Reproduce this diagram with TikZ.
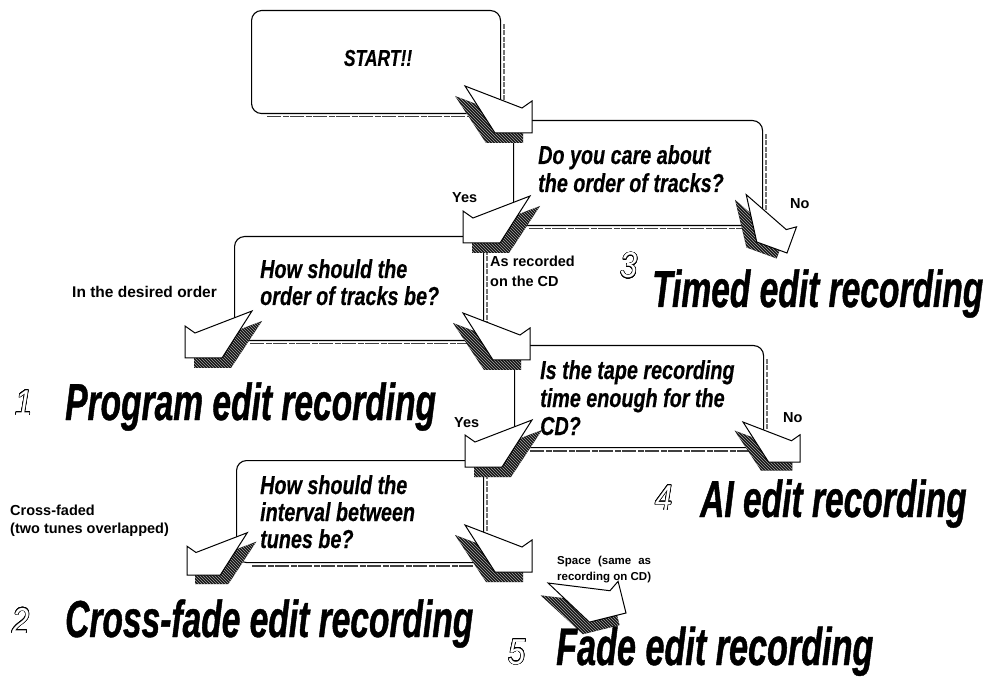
\documentclass[tikz,border=0pt]{standalone}
\usepackage{fontspec}
\setmainfont{Liberation Sans}
\newfontfamily\titlefont[FakeStretch=0.645,FakeBold=0.8]{Liberation Sans}
\newfontfamily\qfont[FakeStretch=0.76,FakeBold=0.4]{Liberation Sans}
\newfontfamily\digitfont[FakeStretch=0.85]{Liberation Sans}
\usepackage[copies]{contour}
\contourlength{0.55pt}
\contournumber{24}
\usetikzlibrary{patterns}
\newlength\spacelen
\newcommand\fatarrow[5]{%
 \coordinate (#1) at (#2);
 \begin{scope}[shift={(#2)}, rotate=#3, scale=#5, xscale=#4]
  \fill[arrshadow] (-77,-37) -- (-19,-15) -- (-9,-22) -- (-9,10) -- (-46,10) -- cycle;
  \fill[arrstripe] (-77,-37) -- (-19,-15) -- (-9,-22) -- (-9,10) -- (-46,10) -- cycle;
  \draw[arrbody] (-67,-47) -- (-10,-25) -- (0,-32) -- (0,0) -- (-37,0) -- cycle;
 \end{scope}}
\newcommand\outdigit[1]{\contour{black}{\textcolor{white}{#1}}}
\begin{document}
\begin{tikzpicture}[x=1pt,y=-1pt,
  box/.style={draw=black, line width=1.1pt, fill=white, rounded corners=10pt, anchor=north west, inner sep=0pt},
  boxshade/.style={draw=black!55, line width=1.6pt, dash pattern=on 5pt off 1.5pt, rounded corners=10pt},
  boxbottom/.style={draw=black!75, line width=1.8pt, dash pattern=on 14pt off 2pt on 6pt off 1pt},
  arrbody/.style={draw=black, line width=1pt, fill=white, line join=miter},
  arrshadow/.style={fill=black!92},
  arrstripe/.style={pattern=north west lines, pattern color=black!35},
  lbl/.style={font=\bfseries\fontsize{14.5}{17}\selectfont, inner sep=0pt, anchor=base west},
  quest/.style={font=\qfont\bfseries\itshape\fontsize{26}{30}\selectfont, inner sep=0pt, anchor=base west},
  ttl/.style={font=\titlefont\bfseries\itshape\fontsize{52}{54}\selectfont, inner sep=0pt, anchor=base west},
  dig/.style={font=\digitfont\itshape\fontsize{36}{38}\selectfont, inner sep=0pt, anchor=base west}
]
\path[use as bounding box] (0,0) rectangle (997,679);

% boxes
\node[box, minimum width=249pt, minimum height=103pt] (b1) at (251,10) {};
\node[box, minimum width=249pt, minimum height=105pt] (b2) at (513,120) {};
\node[box, minimum width=249pt, minimum height=104pt] (b3) at (234,236) {};
\node[box, minimum width=249pt, minimum height=102pt] (b4) at (514,345) {};
\node[box, minimum width=247pt, minimum height=102pt] (b5) at (236,460) {};
\foreach \b in {b1,b2,b3,b4,b5}{
  \draw[boxshade] ([xshift=3pt,yshift=-14pt]\b.north east) -- ([xshift=3pt,yshift=-12pt]\b.south east);
  \draw[boxbottom] ([xshift=16pt,yshift=-2.5pt]\b.south west) -- ([xshift=-10pt,yshift=-2.5pt]\b.south east);
}

% texts in boxes
\node[font=\qfont\bfseries\itshape\fontsize{23}{26}\selectfont, inner sep=0pt] (start) at (378,58) {START!!};
\node[quest] (q2a) at (538,164) {Do you care about};
\node[quest] (q2b) at (538,192) {the order of tracks?};
\node[quest] (q3a) at (260,278) {How should the};
\node[quest] (q3b) at (260,305) {order of tracks be?};
\node[quest] (q4a) at (540,379) {Is the tape recording};
\node[quest] (q4b) at (540,407) {time enough for the};
\node[quest] (q4c) at (540,435) {CD?};
\node[quest] (q5a) at (260,494) {How should the};
\node[quest] (q5b) at (260,521) {interval between};
\node[quest] (q5c) at (260,548) {tunes be?};

% fat arrows
\fatarrow{a1}{532,133}{0}{1}{1}
\fatarrow{a2}{463,243}{0}{-1}{1}
\fatarrow{a3}{787,253}{-20}{1}{0.87}
\fatarrow{a4}{185,358}{0}{-1}{1}
\fatarrow{a5}{530,360}{0}{1}{1}
\fatarrow{a6}{465,467}{0}{-1}{1}
\fatarrow{a7}{800,462}{0}{1}{0.85}
\fatarrow{a8}{187,575}{0}{-1}{0.9}
\fatarrow{a9}{532,572}{0}{1}{1}
\fatarrow{a10}{626,613}{14}{1}{1.02}

% labels
\node[lbl] (yes1) at (452,203) {Yes};
\node[lbl] (no1) at (790,209) {No};
\node[lbl, font=\bfseries\fontsize{15.5}{18}\selectfont] (lorder) at (72,298) {In the desired order};
\node[lbl] (las1) at (490,267) {As recorded};
\node[lbl] (las2) at (490,287) {on the CD};
\node[lbl] (yes2) at (454,427) {Yes};
\node[lbl] (no2) at (783,422) {No};
\node[lbl] (lcross1) at (10,515) {Cross-faded};
\node[lbl] (lcross2) at (10,533) {(two tunes overlapped)};
\node[lbl, font=\bfseries\fontsize{11.5}{14}\selectfont] (lspace1) at (557,564) {\settowidth{\spacelen}{recording on CD)}\makebox[\spacelen][s]{Space (same as}};
\node[lbl, font=\bfseries\fontsize{11.5}{14}\selectfont] (lspace2) at (557,580) {recording on CD)};

% results
\node[dig] (n3) at (620,278) {\outdigit{3}};
\node[ttl] (t3) at (652,307) {Timed edit recording};
\node[dig] (n1) at (15,415) {\outdigit{1}};
\node[ttl] (t1) at (65,420) {Program edit recording};
\node[dig] (n4) at (655,510) {\outdigit{4}};
\node[ttl] (t4) at (700,517) {AI edit recording};
\node[dig] (n2) at (12,633) {\outdigit{2}};
\node[ttl] (t2) at (65,637) {Cross-fade edit recording};
\node[dig] (n5) at (508,664) {\outdigit{5}};
\node[ttl, font=\titlefont\bfseries\itshape\fontsize{53}{55}\selectfont] (t5) at (556,665) {Fade edit recording};
\end{tikzpicture}
\end{document}
